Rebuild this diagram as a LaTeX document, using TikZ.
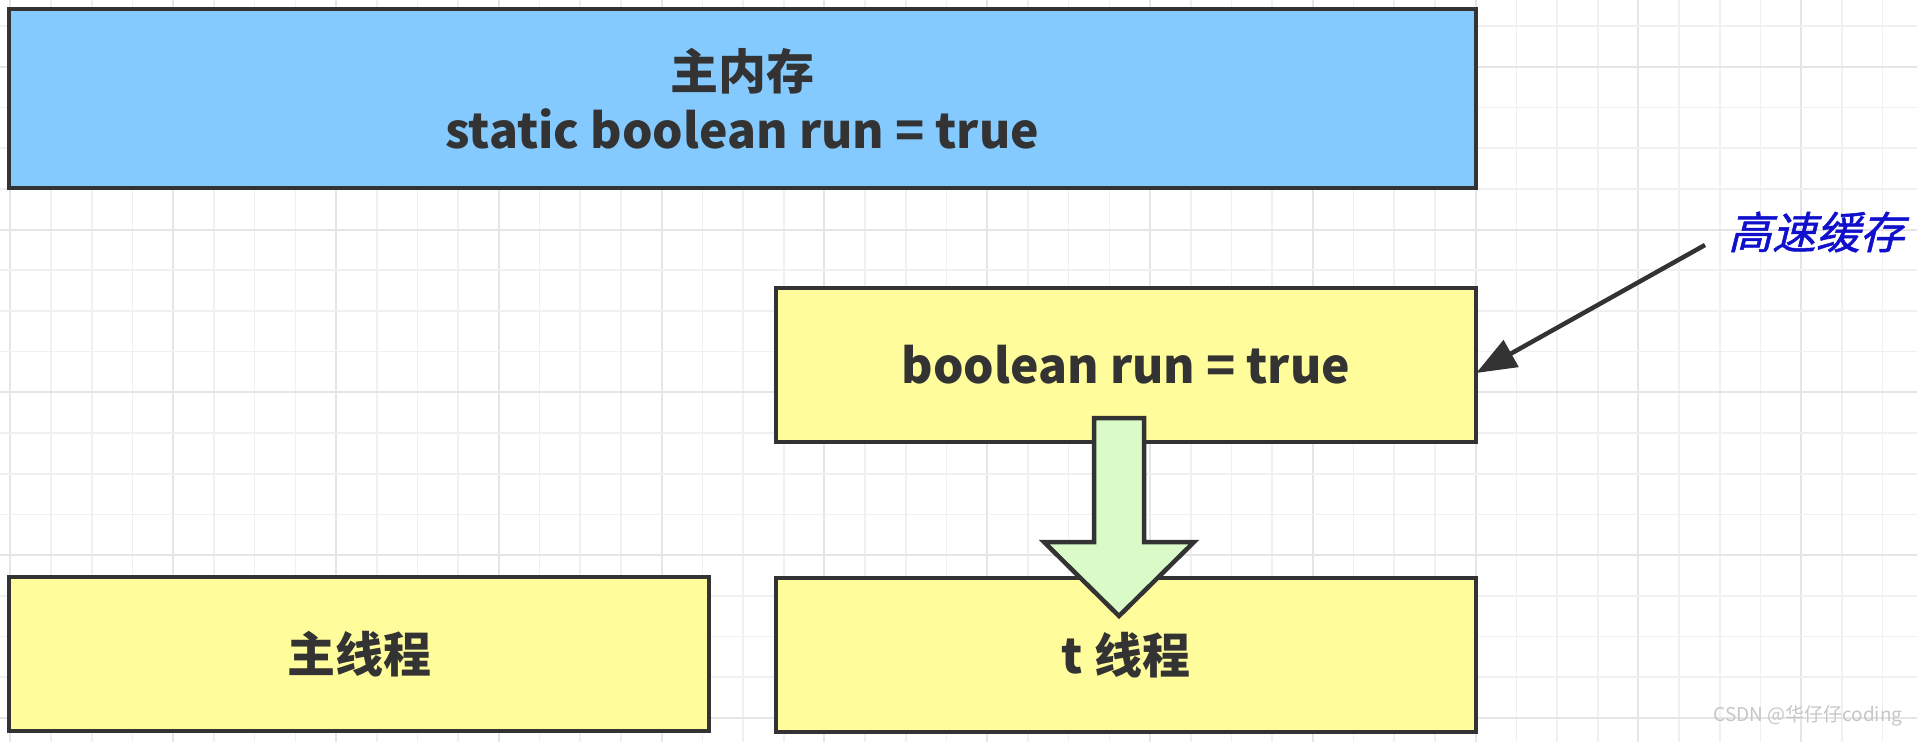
\documentclass[tikz,border=0pt]{standalone}
\usepackage{fontspec}
\setmainfont{Noto Sans CJK SC}
\newfontfamily\annfont{Noto Sans CJK SC}[FakeSlant=0.25,FakeBold=1.2]
\usetikzlibrary{arrows.meta,calc}
\definecolor{memblue}{HTML}{84CAFF}
\definecolor{cacheyel}{HTML}{FFFC9B}
\definecolor{arrgreen}{HTML}{DAFBC8}
\definecolor{edgegray}{HTML}{333333}
\definecolor{gridminor}{HTML}{F0F0F0}
\definecolor{gridmajor}{HTML}{E5E5E5}
\definecolor{annblue}{HTML}{1010CC}
\begin{document}
\begin{tikzpicture}[x=1pt,y=-1pt,
  box/.style={draw=edgegray, line width=4.5pt, minimum width=700pt, minimum height=154pt,
    inner sep=0pt, font=\fontsize{48}{59}\selectfont\bfseries, text=edgegray, align=center},
  minorline/.style={gridminor, line width=1.6pt},
  majorline/.style={gridmajor, line width=2pt},
  blockarrow/.style={draw=edgegray, line width=4.5pt, fill=arrgreen, line join=miter},
  annarrow/.style={draw=edgegray, line width=4.5pt, -{Triangle[length=40pt,width=30pt]}}]
\fill[white] (0,0) rectangle (1917,742);
\useasboundingbox (0,0) rectangle (1917,742);
% grid
\foreach \k in {0,...,46} {
  \pgfmathsetmacro\xx{10.4+40.7*\k}
  \pgfmathtruncatemacro\m{mod(\k,4)}
  \ifnum\m=0 \draw[majorline] (\xx,0) -- (\xx,742);
  \else \draw[minorline] (\xx,0) -- (\xx,742); \fi
}
\foreach \k in {0,...,17} {
  \pgfmathsetmacro\yy{26+40.7*\k}
  \pgfmathtruncatemacro\m{mod(\k,4)}
  \ifnum\m=1 \draw[majorline] (0,\yy) -- (1917,\yy);
  \else \draw[minorline] (0,\yy) -- (1917,\yy); \fi
}
% boxes
\node[box, fill=memblue, minimum width=1467pt, minimum height=179pt] (mem) at (742.3,98.3)
  {主内存\\static boolean run = true};
\node[box, fill=cacheyel] (cache) at (1126,365) {boolean run = true};
\node[box, fill=cacheyel] (mainT) at (359,654) {主线程};
\node[box, fill=cacheyel] (tT) at (1126,655) {t 线程};
% block arrow from cache to t thread
\draw[blockarrow] (1094,418) -- (1144,418) -- (1144,542) -- (1194,542) -- (1119,616)
  -- (1044,542) -- (1094,542) -- cycle;
% annotation
\node[font=\annfont\fontsize{44}{50}\selectfont, text=annblue] (ann) at (1816,232) {高速缓存};
\coordinate (annstart) at (1705,245);
\draw[annarrow] (annstart) -- ($(cache.east)+(-2,8)$);
% watermark
\node[font=\fontsize{19}{20}\selectfont, text=gray!45, anchor=east] (wm) at (1906,716) {CSDN @华仔仔coding};
\end{tikzpicture}
\end{document}
